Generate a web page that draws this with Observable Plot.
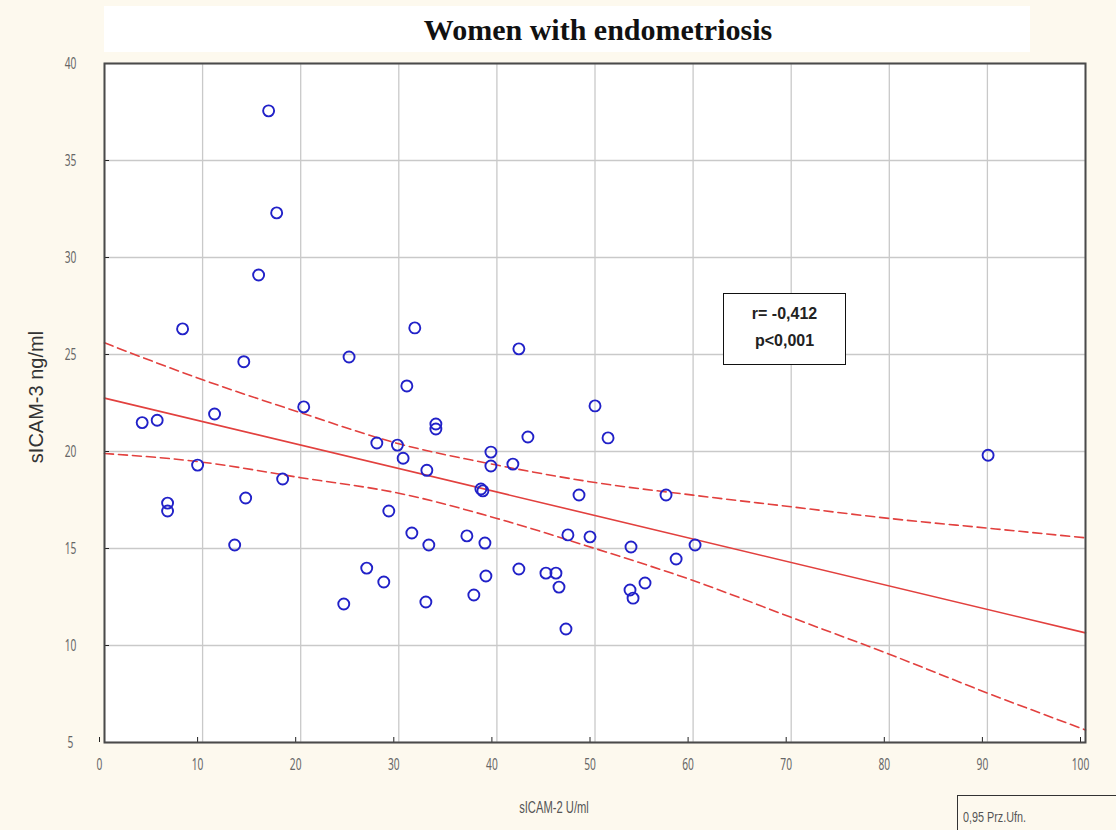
<!DOCTYPE html>
<html>
<head>
<meta charset="utf-8">
<script src="https://cdn.jsdelivr.net/npm/d3@7"></script>
<script src="https://cdn.jsdelivr.net/npm/@observablehq/plot@0.6"></script>
<style>
  body { margin: 0; background: #fdf9ee; }
  #wrap { position: relative; width: 1116px; height: 830px; background: #fdf9ee; overflow: hidden; font-family: "Liberation Sans", Arial, sans-serif; }
  #titlebox { position: absolute; left: 104px; top: 6px; width: 926px; height: 46px; background: #fff; }
  #title { position: absolute; left: 598px; top: 30px; transform: translate(-50%, -50%); font-family: "Liberation Serif", serif; font-weight: bold; font-size: 30px; white-space: nowrap; color: #111; }
  #chart { position: absolute; left: 0; top: 0; }
  #stat { position: absolute; left: 723px; top: 293px; width: 123px; height: 72px; border: 1.5px solid #111; background: #fff; box-sizing: border-box; text-align: center; font-weight: bold; font-size: 16px; line-height: 27px; padding-top: 6px; color: #222; }
  #ylabel { position: absolute; left: 36px; top: 397px; transform: translate(-50%, -50%) rotate(-90deg); font-size: 20px; color: #333; white-space: nowrap; }
  #xlabel { position: absolute; left: 554px; top: 808px; transform: translate(-50%, -50%) scaleX(0.7); font-size: 16px; color: #555; white-space: nowrap; }
  #legend { position: absolute; left: 957px; top: 795px; width: 170px; height: 45px; border: 1.5px solid #333; box-sizing: border-box; background: #fdf9ee; }
  #legend span { position: absolute; left: 5px; top: 12px; transform-origin: 0 50%; transform: scaleX(0.72); font-size: 15px; color: #555; white-space: nowrap; }
</style>
</head>
<body>
<div id="wrap">
  <div id="titlebox"></div>
  <div id="title">Women with endometriosis</div>
  <div id="chart"></div>
  <div id="stat">r= -0,412<br>p&lt;0,001</div>
  <div id="ylabel">sICAM-3 ng/ml</div>
  <div id="xlabel">sICAM-2 U/ml</div>
  <div id="legend"><span>0,95 Prz.Ufn.</span></div>
</div>
<script>
// sICAM-2 (U/ml) values
const xVals = [16.73, 17.55, 15.71, 7.96, 31.63, 14.2, 24.93, 42.24, 30.82, 11.22,
  20.31, 50.0, 3.84, 5.37, 33.78, 33.78, 43.16, 51.33, 27.76, 29.86,
  30.44, 39.39, 39.39, 41.63, 90.07, 9.49, 32.86, 18.16, 38.37, 38.57,
  48.37, 57.24, 6.43, 6.43, 14.39, 28.98, 31.33, 36.94, 47.24, 49.49,
  13.27, 33.06, 38.78, 53.67, 60.2, 58.27, 26.73, 42.24, 38.88, 45.0,
  46.02, 46.33, 28.47, 55.1, 53.57, 53.88, 37.65, 32.76, 24.39, 47.04];
// sICAM-3 (ng/ml) values
const yVals = [37.56, 32.30, 29.10, 26.32, 26.37, 24.63, 24.87, 25.29, 23.38, 21.93,
  22.30, 22.35, 21.49, 21.61, 21.42, 21.16, 20.75, 20.70, 20.44, 20.33,
  19.65, 19.97, 19.25, 19.35, 19.81, 19.30, 19.03, 18.58, 18.07, 17.97,
  17.76, 17.76, 17.34, 16.93, 17.60, 16.93, 15.80, 15.65, 15.70, 15.60,
  15.18, 15.18, 15.28, 15.08, 15.18, 14.46, 13.99, 13.94, 13.58, 13.73,
  13.73, 13.01, 13.27, 13.22, 12.86, 12.44, 12.60, 12.24, 12.14, 10.85];

// regression line
const fitX = [0, 100];
const fitY = [22.75, 10.65];
// 0.95 confidence bounds
const bandX = [0, 10, 20, 30, 40, 50, 60, 70, 80, 90, 100];
const upperY = [25.6, 23.7, 22.0, 20.4, 19.3, 18.4, 17.75, 17.15, 16.55, 16.05, 15.55];
const lowerY = [19.9, 19.45, 18.65, 17.85, 16.55, 15.0, 13.35, 11.45, 9.55, 7.55, 5.65];

const xTicks = [0, 10, 20, 30, 40, 50, 60, 70, 80, 90, 100];
const yTicks = [5, 10, 15, 20, 25, 30, 35, 40];

const points = xVals.map((x, i) => ({x, y: yVals[i]}));
const fit = fitX.map((x, i) => ({x, y: fitY[i]}));
const upper = bandX.map((x, i) => ({x, y: upperY[i]}));
const lower = bandX.map((x, i) => ({x, y: lowerY[i]}));

const red = "#e2403e";

const chart = Plot.plot({
  width: 1116,
  height: 830,
  marginLeft: 104,
  marginRight: 31,
  marginTop: 63,
  marginBottom: 88,
  style: {background: "transparent", overflow: "visible"},
  x: {domain: [0, 100]},
  y: {domain: [5, 40]},
  marks: [
    Plot.frame({fill: "white", stroke: null}),
    Plot.gridX(xTicks, {stroke: "#c9c9c9", strokeOpacity: 1, strokeWidth: 1.3}),
    Plot.gridY(yTicks, {stroke: "#c9c9c9", strokeOpacity: 1, strokeWidth: 1.3}),
    Plot.line(upper, {x: "x", y: "y", stroke: red, strokeWidth: 1.6, strokeDasharray: "9,5", curve: "monotone-x"}),
    Plot.line(lower, {x: "x", y: "y", stroke: red, strokeWidth: 1.6, strokeDasharray: "9,5", curve: "monotone-x"}),
    Plot.line(fit, {x: "x", y: "y", stroke: red, strokeWidth: 1.6}),
    Plot.dot(points, {x: "x", y: "y", r: 5.5, stroke: "#2121c8", strokeWidth: 1.9, fill: "none"}),
    Plot.axisX(xTicks, {tickSize: -5, tickPadding: 20, dx: -5, fontSize: 17, fill: "#666", stroke: "#222", label: null, tickFormat: d => String(d)}),
    Plot.axisY(yTicks, {tickSize: -5, tickPadding: 39, textAnchor: "middle", fontSize: 17, fill: "#666", stroke: "#222", label: null, tickFormat: d => String(d)}),
    Plot.frame({stroke: "#4a4a4a", strokeWidth: 2})
  ]
});
// condense tick labels horizontally like the original's narrow font
d3.select(chart).selectAll('g[aria-label="x-axis tick label"] text, g[aria-label="y-axis tick label"] text')
  .attr("transform", function () { return (this.getAttribute("transform") || "") + " scale(0.6,1)"; });
document.getElementById("chart").appendChild(chart);
</script>
</body>
</html>
